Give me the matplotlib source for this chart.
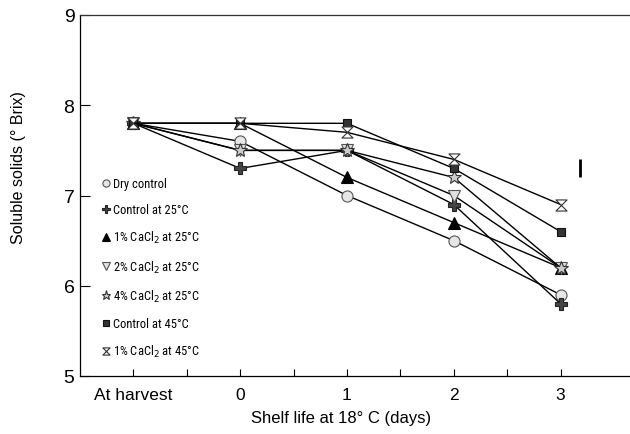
import matplotlib
matplotlib.use("Agg")
import matplotlib.pyplot as plt
from matplotlib.path import Path
from matplotlib import font_manager
import numpy as np

x_labels = ["At harvest", "0", "1", "2", "3"]
x_pos = [-1, 0, 1, 2, 3]

series_names = ["Dry control", "Control at 25°C", "1% CaCl$_2$ at 25°C",
                "2% CaCl$_2$ at 25°C", "4% CaCl$_2$ at 25°C",
                "Control at 45°C", "1% CaCl$_2$ at 45°C"]
dry_control = [7.8, 7.6, 7.0, 6.5, 5.9]
control_25 = [7.8, 7.3, 7.5, 6.9, 5.8]
cacl1_25 = [7.8, 7.8, 7.2, 6.7, 6.2]
cacl2_25 = [7.8, 7.5, 7.5, 7.0, 6.2]
cacl4_25 = [7.8, 7.5, 7.5, 7.2, 6.2]
control_45 = [7.8, 7.8, 7.8, 7.3, 6.6]
cacl1_45 = [7.8, 7.8, 7.7, 7.4, 6.9]

lsd_x = 3.18
lsd_y = [7.2, 7.4]

hourglass = Path([(-1, 1), (1, 1), (-1, -1), (1, -1), (-1, 1)],
                 [Path.MOVETO, Path.LINETO, Path.LINETO, Path.LINETO, Path.CLOSEPOLY])

styles = [
    dict(marker="o", ms=8, mfc="#e6e6e6", mec="#555555"),
    dict(marker="P", ms=8, mfc="#444444", mec="#222222"),
    dict(marker="^", ms=8, mfc="black", mec="black"),
    dict(marker="v", ms=8, mfc="#e0e0e0", mec="#555555"),
    dict(marker="*", ms=10, mfc="#cccccc", mec="#333333"),
    dict(marker="s", ms=6, mfc="#333333", mec="#111111"),
    dict(marker=hourglass, ms=8, mfc="white", mec="#333333"),
]
data = [dry_control, control_25, cacl1_25, cacl2_25, cacl4_25, control_45, cacl1_45]

names = {f.name for f in font_manager.fontManager.ttflist}
narrow = [n for n in ["Liberation Sans Narrow", "DejaVu Sans Condensed", "Roboto Condensed",
                      "Open Sans Condensed"] if n in names]
leg_family = narrow + ["Liberation Sans", "DejaVu Sans"]

W, H = 630, 435
fig = plt.figure(figsize=(W / 100, H / 100), dpi=100)
ax = fig.add_axes([80 / W, 1 - 377 / H, 1 - 80 / W, (377 - 16) / H])

handles = []
for name, vals, st in zip(series_names, data, styles):
    ln, = ax.plot(x_pos, vals, color="black", lw=1.0, label=name, mew=0.8, zorder=3, **st)
    handles.append(ln)

ax.plot([lsd_x, lsd_x], lsd_y, color="black", lw=2.0, solid_capstyle="butt")

ax.set_xlim(-1.5, 3.65)
ax.set_ylim(5, 9)
ax.set_xticks(x_pos)
ax.set_xticklabels(x_labels)
ax.set_xticks([-0.5, 0.5, 1.5, 2.5], minor=True)
ax.set_yticks([5, 6, 7, 8, 9])

for lab in ax.get_xticklabels():
    lab.set_family(["Liberation Sans", "DejaVu Sans"])
for lab in ax.get_yticklabels():
    lab.set_family(["Liberation Sans", "DejaVu Sans"])

ax.tick_params(axis="x", which="both", direction="in", length=5, width=0.8, labelsize=12.5, pad=8)
ax.tick_params(axis="y", which="both", direction="in", length=7, width=0.8, labelsize=14, pad=4)

ax.spines["right"].set_visible(False)
ax.spines["top"].set_color("#333333")
for s in ["left", "bottom", "top"]:
    ax.spines[s].set_linewidth(0.9)

fig.text(341 / W, 1 - 419 / H, "Shelf life at 18° C (days)",
         ha="center", va="center", fontsize=12, family=["Liberation Sans", "DejaVu Sans"])
fig.text(19 / W, 1 - 168 / H, "Soluble solids (° Brix)", rotation=90,
         ha="center", va="center", fontsize=11.5, family=["Liberation Sans", "DejaVu Sans"])

leg = ax.legend(handles=handles, loc="upper left", bbox_to_anchor=(21 / 550, 1 - (173 - 16) / 361),
                frameon=False, handlelength=0, handletextpad=0.55, labelspacing=1.05,
                borderaxespad=0, markerscale=0.65,
                prop=dict(family=leg_family, size=9, stretch="condensed"))
for t in leg.get_texts():
    t.set_fontstretch("condensed")

fig.savefig("out.png", dpi=100)
